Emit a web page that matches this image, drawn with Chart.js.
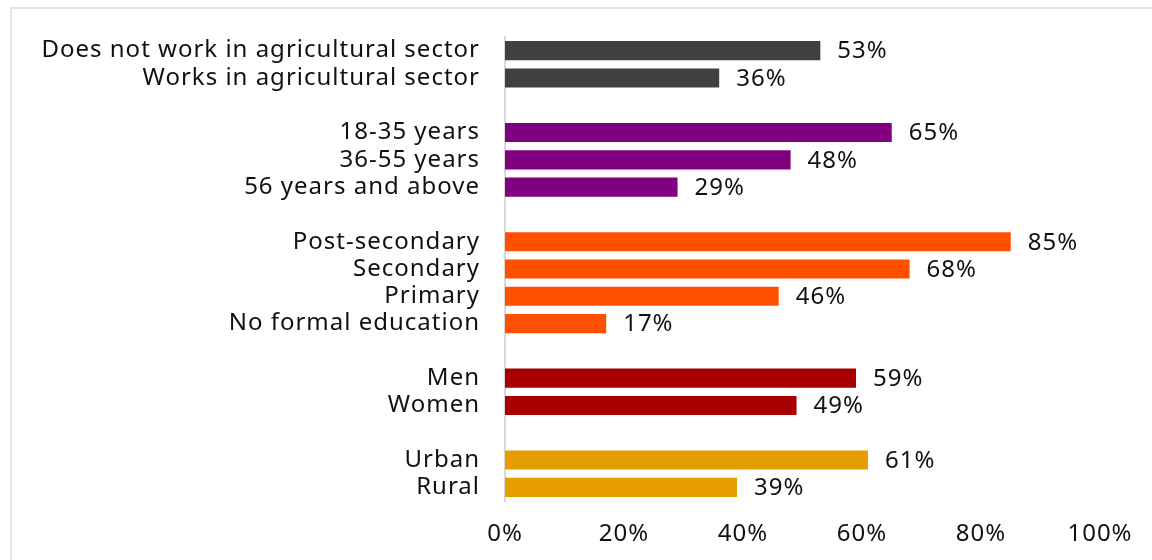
<!DOCTYPE html>
<html lang="en">

<head>
    <meta charset="UTF-8">
    <title>Share by group</title>
    <script src="https://cdn.jsdelivr.net/npm/chart.js"></script>
    <style>
        html, body {
            margin: 0;
            padding: 0;
            width: 1152px;
            height: 560px;
            overflow: hidden;
            background: #ffffff;
        }

        .frame {
            position: absolute;
            left: 10px;
            top: 7px;
            width: 1300px;
            height: 700px;
            border: 2px solid #e4e4e4;
            box-sizing: border-box;
        }

        .wrap {
            position: absolute;
            left: 0;
            top: 0;
            width: 1152px;
            height: 560px;
        }
    </style>
</head>

<body>
    <div class="frame"></div>
    <div class="wrap">
        <canvas id="groupChart" width="1152" height="560"></canvas>
    </div>

    <script>
        // empty labels leave a blank row between groups
        const categories = [
            'Does not work in agricultural sector', 'Works in agricultural sector', '',
            '18-35 years', '36-55 years', '56 years and above', '',
            'Post-secondary', 'Secondary', 'Primary', 'No formal education', '',
            'Men', 'Women', '',
            'Urban', 'Rural'
        ];
        const values = [
            53, 36, null,
            65, 48, 29, null,
            85, 68, 46, 17, null,
            59, 49, null,
            61, 39
        ];
        const barColors = [
            '#404040', '#404040', null,
            '#800080', '#800080', '#800080', null,
            '#ff5000', '#ff5000', '#ff5000', '#ff5000', null,
            '#a80000', '#a80000', null,
            '#e69d00', '#e69d00'
        ];
        const xTicks = [0, 20, 40, 60, 80, 100];

        const FONT = '"Noto Sans", "DejaVu Sans", sans-serif';

        // slightly wider tracking for every text on the canvas
        const tracking = {
            id: 'tracking',
            beforeInit(chart) {
                chart.ctx.letterSpacing = '1px';
            },
            beforeDraw(chart) {
                chart.ctx.letterSpacing = '1px';
            }
        };

        // percentage written just past the end of each bar
        const valueLabels = {
            id: 'valueLabels',
            afterDatasetsDraw(chart) {
                const ctx = chart.ctx;
                const meta = chart.getDatasetMeta(0);
                ctx.save();
                ctx.font = '24px ' + FONT;
                ctx.fillStyle = '#111111';
                ctx.textAlign = 'left';
                ctx.textBaseline = 'middle';
                meta.data.forEach((bar, i) => {
                    if (values[i] === null) return;
                    ctx.fillText(values[i] + '%', bar.x + 17, bar.y + 1);
                });
                ctx.restore();
            }
        };

        new Chart(document.getElementById('groupChart'), {
            type: 'bar',
            data: {
                labels: categories,
                datasets: [{
                    data: values,
                    backgroundColor: barColors,
                    barPercentage: 0.7,
                    categoryPercentage: 1.0
                }]
            },
            options: {
                indexAxis: 'y',
                responsive: false,
                animation: false,
                layout: {
                    padding: { top: 37, right: 52, bottom: 0, left: 0 }
                },
                plugins: {
                    legend: { display: false },
                    tooltip: { enabled: false }
                },
                scales: {
                    x: {
                        min: 0,
                        max: 100,
                        afterBuildTicks(scale) {
                            scale.ticks = xTicks.map(v => ({ value: v }));
                        },
                        afterFit(scale) {
                            scale.height = 59;
                            scale.paddingLeft = 0;
                            scale.paddingRight = 0;
                        },
                        grid: { display: false },
                        border: { display: false },
                        ticks: {
                            padding: 11,
                            color: '#111111',
                            font: { family: FONT, size: 24 },
                            callback: v => v + '%'
                        }
                    },
                    y: {
                        afterFit(scale) {
                            scale.width = 505;
                            scale.paddingTop = 0;
                            scale.paddingBottom = 0;
                        },
                        grid: { display: false },
                        border: { display: true, color: '#d9d9d9', width: 2 },
                        ticks: {
                            padding: 17,
                            color: '#111111',
                            autoSkip: false,
                            font: { family: FONT, size: 24 }
                        }
                    }
                }
            },
            plugins: [tracking, valueLabels]
        });
    </script>
</body>

</html>
